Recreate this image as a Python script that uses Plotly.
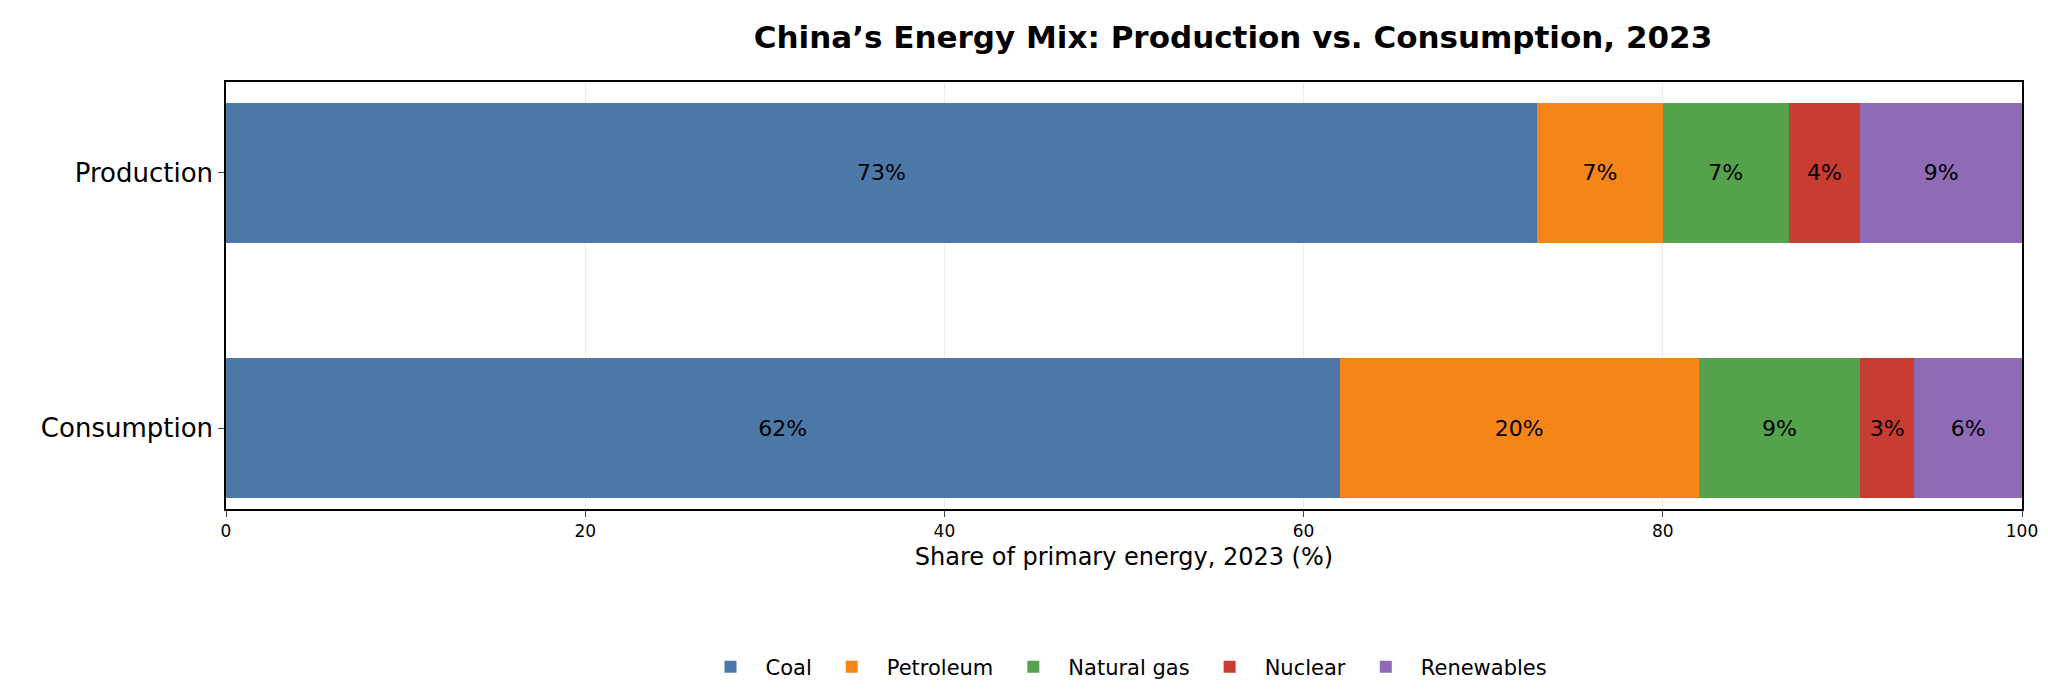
import plotly.graph_objects as go

categories = ["Production", "Consumption"]
sources = ["Coal", "Petroleum", "Natural gas", "Nuclear", "Renewables"]
production = [73, 7, 7, 4, 9]
consumption = [62, 20, 9, 3, 6]
colors = ["#4c78a8", "#f58518", "#54a24b", "#c83c31", "#8f6bb6"]

fig = go.Figure()
for i, src in enumerate(sources):
    vals = [production[i], consumption[i]]
    fig.add_trace(go.Bar(
        y=categories, x=vals, name=src, orientation="h",
        marker=dict(color=colors[i], line=dict(width=0)),
        width=0.55,
        text=[f"{v}%" for v in vals], textposition="inside",
        insidetextanchor="middle", textangle=0,
        textfont=dict(color="black", size=22),
    ))

fig.update_layout(
    barmode="stack",
    width=2048, height=692,
    font=dict(family="DejaVu Sans", color="black"),
    paper_bgcolor="white", plot_bgcolor="white",
    margin=dict(l=218, r=34, t=74, b=163),
    title=dict(text="<b>China’s Energy Mix: Production vs. Consumption, 2023</b>",
               x=(218 + 1007) / 2048, xanchor="center", y=0.958, yanchor="middle",
               font=dict(size=31)),
    xaxis=dict(range=[0, 100], dtick=20, showgrid=True, gridcolor="rgba(0,0,0,0.08)",
               ticks="outside", ticklen=6, tickfont=dict(size=17),
               title=dict(text="Share of primary energy, 2023 (%)", font=dict(size=24), standoff=8),
               showline=True, linecolor="black", linewidth=1.5, mirror=True, zeroline=False),
    yaxis=dict(categoryorder="array", categoryarray=["Consumption", "Production"],
               range=[-0.317, 1.356], ticks="outside", ticklen=6, tickfont=dict(size=26),
               showline=True, linecolor="black", linewidth=1.5, mirror=True, showgrid=False),
    legend=dict(orientation="h", x=0.5, xanchor="center", y=-0.37, yanchor="middle",
                font=dict(size=21), traceorder="normal", itemwidth=60),
    bargap=0.45,
)

fig.write_html("out.html")
